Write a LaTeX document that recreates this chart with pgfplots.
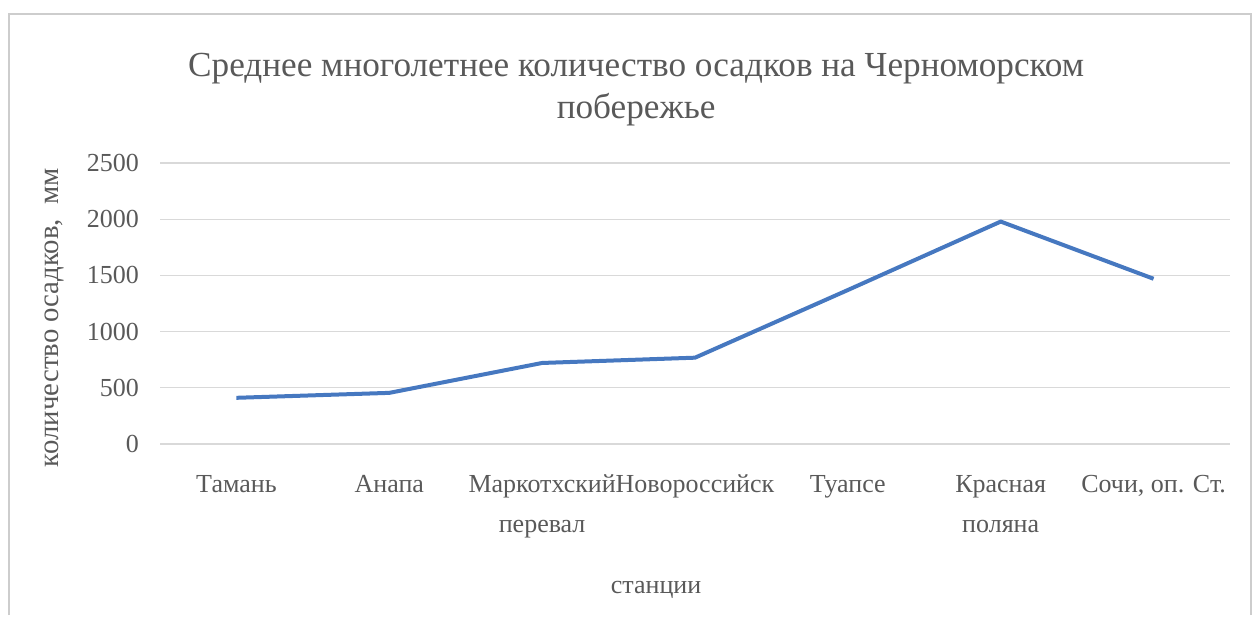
\documentclass[border=0pt]{standalone}
\usepackage{fontspec}
\setmainfont{Liberation Serif}
\usepackage{pgfplots}
\pgfplotsset{compat=1.18}
\definecolor{xlblue}{RGB}{70,120,192}
\definecolor{txt}{RGB}{89,89,89}
\definecolor{gridc}{RGB}{217,217,217}
\definecolor{frame}{RGB}{205,205,205}
\begin{document}
\begin{tikzpicture}
\path (0pt,0pt) rectangle (626.5pt,-307.5pt);
\draw[frame, line width=1pt] (4.5pt,-307.5pt) -- (4.5pt,-7pt) -- (625.5pt,-7pt) -- (625.5pt,-307.5pt);
\begin{axis}[
  at={(80pt,-222pt)}, anchor=south west,
  scale only axis, width=535pt, height=140.5pt,
  xmin=-0.5, xmax=6.5, ymin=0, ymax=2500,
  ytick={0,500,...,2500},
  xtick={0,...,6},
  xticklabels={Тамань, Анапа, Маркотхский\\перевал, Новороссийск, Туапсе, Красная\\поляна, {Сочи, оп. Ст.}},
  axis line style={draw=none},
  major tick length=0pt,
  ymajorgrids,
  grid style={gridc, line width=0.6pt},
  tick label style={font=\fontsize{13}{20}\selectfont, text=txt},
  xticklabel style={align=center, yshift=-12pt},
  yticklabel style={xshift=-7pt},
  /pgf/number format/assume math mode=true,
  /pgf/number format/set thousands separator={},
  ylabel={количество осадков,~~мм},
  xlabel={станции},
  every axis y label/.style={at={(axis description cs:-0.099,0.45)}, anchor=center, rotate=90, font=\fontsize{14.4}{16}\selectfont, text=txt},
  every axis x label/.style={at={(axis description cs:0.4636,-0.52)}, anchor=center, font=\fontsize{13}{15}\selectfont, text=txt},
  title={Среднее многолетнее количество осадков на Черноморском\\побережье},
  title style={at={(axis description cs:0.445,1.22)}, anchor=center, align=center, font=\fontsize{17.6}{21}\selectfont, text=txt},
]
\addplot[xlblue, line width=2pt, line join=round] coordinates {(0,411) (1,455) (2,721) (3,768) (4,1370) (5,1979) (6,1470)};
\end{axis}
\end{tikzpicture}
\end{document}
